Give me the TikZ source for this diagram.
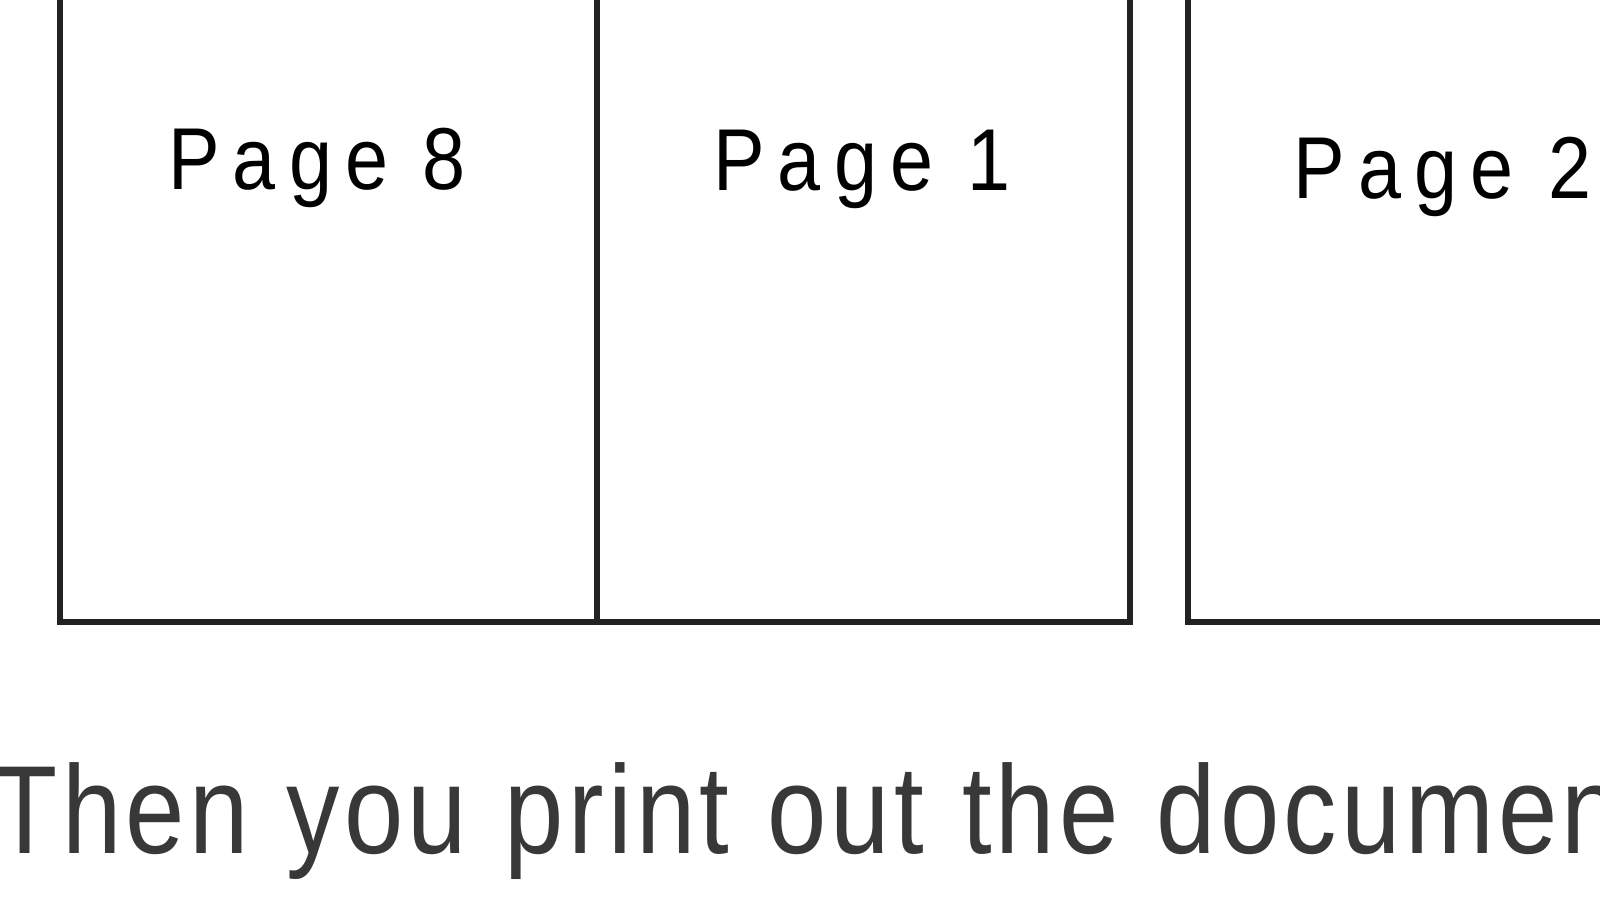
\documentclass[tikz,border=0pt]{standalone}
\usepackage{fontspec}
\setmainfont{Liberation Sans}
\newfontfamily\labelfont[LetterSpace=17]{Liberation Sans}
\newfontfamily\captionfont[LetterSpace=4,WordSpace=1.12]{Liberation Sans}
\definecolor{linecol}{HTML}{222222}
\definecolor{captioncol}{HTML}{383838}
\tikzset{
  pageedge/.style={draw=linecol, line width=0.055cm, line join=miter},
  pagelabel/.style={anchor=base, inner sep=0pt, font=\labelfont\fontsize{25}{30}\selectfont, text=black},
  caption/.style={anchor=base west, inner sep=0pt, text=captioncol}
}
\begin{document}
\begin{tikzpicture}
\useasboundingbox (0,0) rectangle (16,9);
\clip (0,0) rectangle (16,9);
\fill[white] (0,0) rectangle (16,9);
% pages
\draw[pageedge] (0.60,9.3) -- (0.60,2.78) -- (11.30,2.78) -- (11.30,9.3);
\draw[pageedge] (5.97,9.3) -- (5.97,2.78);
\draw[pageedge] (11.88,9.3) -- (11.88,2.78) -- (16.3,2.78);
% labels
\node[pagelabel] (p8) at (3.17,7.10) {\scalebox{0.88}[1]{Page 8}};
\node[pagelabel] (p1) at (8.62,7.09) {\scalebox{0.88}[1]{Page 1}};
\node[pagelabel, anchor=base west] (p2) at (12.93,7.01) {\scalebox{0.88}[1]{Page 2}};
% caption
\node[caption] (cap) at (-0.08,0.47) {\scalebox{0.85}[1]{\captionfont\fontsize{35.7}{40}\selectfont Then you print out the documents}};
\end{tikzpicture}
\end{document}
